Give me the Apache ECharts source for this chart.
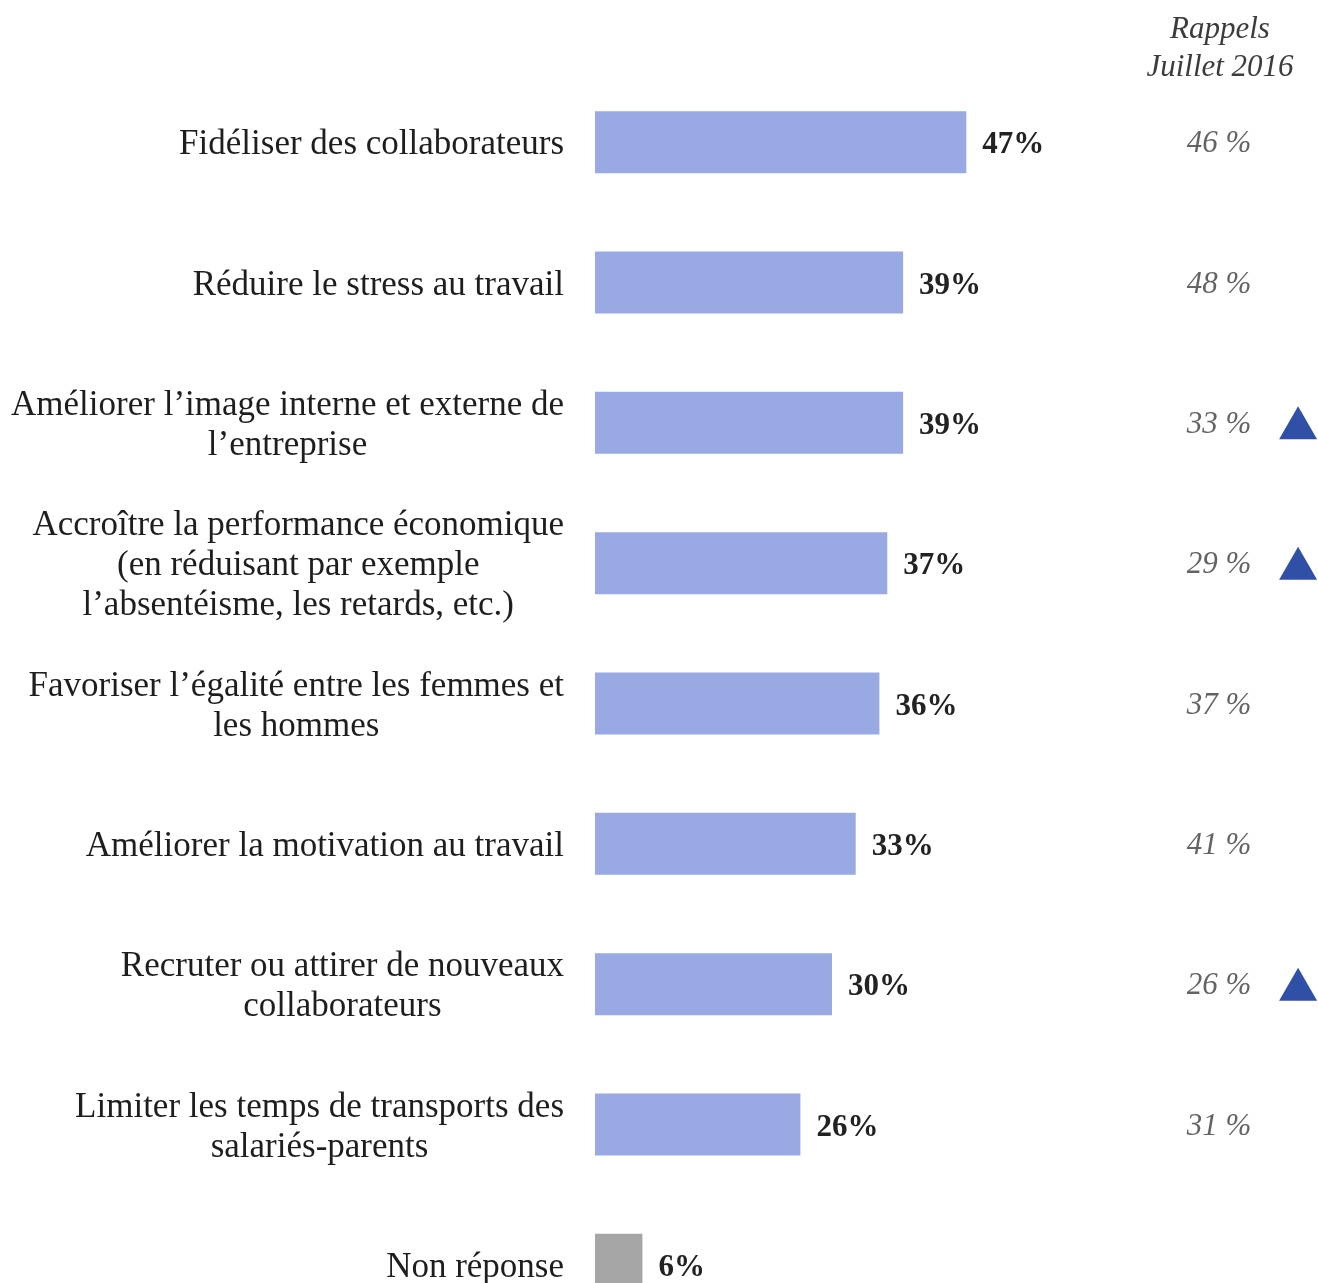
<!DOCTYPE html>
<html>
<head>
<meta charset="utf-8">
<style>
  html, body { margin: 0; padding: 0; background: #ffffff; }
  #chart { width: 1318px; height: 1283px; }
</style>
<script src="https://cdn.jsdelivr.net/npm/echarts@6/dist/echarts.min.js"></script>
</head>
<body>
<div id="chart"></div>
<script>
// Motivations for the measures, current wave vs. July 2016 reminder
const categories = [
  "Fidéliser des collaborateurs",
  "Réduire le stress au travail",
  "Améliorer l’image interne et externe de\nl’entreprise",
  "Accroître la performance économique\n(en réduisant par exemple\nl’absentéisme, les retards, etc.)",
  "Favoriser l’égalité entre les femmes et\nles hommes",
  "Améliorer la motivation au travail",
  "Recruter ou attirer de nouveaux\ncollaborateurs",
  "Limiter les temps de transports des\nsalariés-parents",
  "Non réponse"
];
const values = [47, 39, 39, 37, 36, 33, 30, 26, 6];
const rappels2016 = [46, 48, 33, 29, 37, 41, 26, 31, null];
const trendUp = [false, false, true, true, false, false, true, false, false];

const FONT = "'Liberation Serif', 'DejaVu Serif', serif";
const BAR_COLOR = '#98a9e3';
const NR_COLOR = '#a6a6a6';
const RAPPEL_COL = 79;   // x position of the reminder column on the value axis
const TREND_COL = 89;    // x position of the trend markers

const chart = echarts.init(document.getElementById('chart'), null, { renderer: 'canvas' });

const barData = values.map((v, i) => ({
  value: v,
  itemStyle: { color: categories[i] === 'Non réponse' ? NR_COLOR : BAR_COLOR }
}));

const rappelData = rappels2016
  .map((v, i) => (v == null ? null : { value: [RAPPEL_COL, i], rappel: v }))
  .filter(Boolean);

const trendData = trendUp
  .map((up, i) => (up ? [TREND_COL, i] : null))
  .filter(Boolean);

chart.setOption({
  animation: false,
  backgroundColor: '#ffffff',
  title: {
    text: 'Rappels\nJuillet 2016',
    left: 1215,
    top: 6,
    textAlign: 'center',
    textStyle: {
      fontFamily: FONT,
      fontStyle: 'italic',
      fontWeight: 'normal',
      fontSize: 31,
      lineHeight: 38,
      color: '#3c3c3c'
    }
  },
  grid: {
    left: 595, top: 72, width: 790, height: 1263,
    containLabel: false,
    outerBoundsMode: 'none'
  },
  xAxis: {
    type: 'value',
    min: 0,
    max: 100,
    show: false
  },
  yAxis: {
    type: 'category',
    data: categories,
    inverse: true,
    axisLine: { show: false },
    axisTick: { show: false },
    splitLine: { show: false },
    axisLabel: {
      margin: 31,
      padding: [6, 0, 0, 0],
      formatter: (v) => v.split('\n').map(s => '{c|' + s + '}').join('\n'),
      rich: {
        c: {
          align: 'center',
          fontFamily: FONT,
          fontSize: 35,
          lineHeight: 40,
          color: '#1e1e1e'
        }
      }
    }
  },
  series: [
    {
      type: 'bar',
      data: barData,
      barWidth: 62,
      label: {
        show: true,
        position: 'right',
        distance: 16,
        offset: [0, 3],
        formatter: '{c}%',
        fontFamily: FONT,
        fontWeight: 'bold',
        fontSize: 31,
        color: '#222222'
      }
    },
    {
      type: 'scatter',
      data: rappelData,
      symbolSize: 0,
      silent: true,
      label: {
        show: true,
        position: 'inside',
        offset: [0, 2],
        formatter: (p) => p.data.rappel + ' %',
        fontFamily: FONT,
        fontStyle: 'italic',
        fontSize: 31,
        color: '#3c3c3c'
      }
    },
    {
      type: 'scatter',
      data: trendData,
      symbol: 'triangle',
      symbolSize: [38, 33],
      itemStyle: { color: '#3050a8', opacity: 1 },
      silent: true
    }
  ]
});
</script>
</body>
</html>
